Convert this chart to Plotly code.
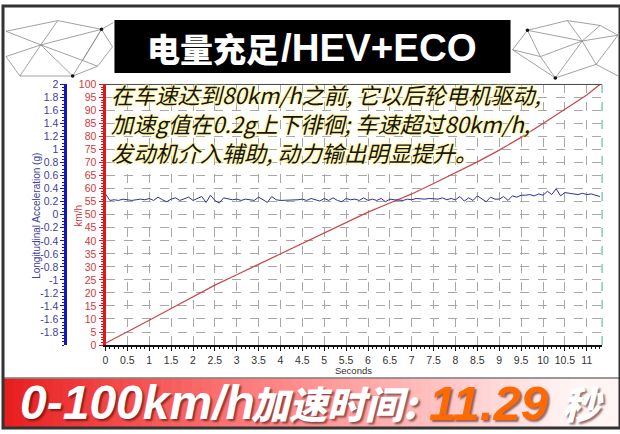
import plotly.graph_objects as go

# ---------------- data ----------------
speed_time_s = [0, 0.5, 1, 1.5, 2, 2.5, 3, 3.5, 4, 4.5, 5, 5.5, 6, 6.5, 7, 7.5,
                8, 8.5, 9, 9.5, 10, 10.5, 11, 11.3]
speed_kmh = [0.7, 5, 9.5, 14, 18.5, 23, 27, 31, 35, 39, 43, 47, 51, 54.5, 58, 62,
             66, 70.3, 74.8, 79.7, 85, 90.5, 96, 100]

acc_time_s = [0.0, 0.1, 0.2, 0.3, 0.4, 0.5, 0.6, 0.7, 0.8, 0.9,
              1.0, 1.1, 1.2, 1.3, 1.4, 1.5, 1.6, 1.7, 1.8, 1.9,
              2.0, 2.1, 2.2, 2.3, 2.4, 2.5, 2.6, 2.7, 2.8, 2.9,
              3.0, 3.1, 3.2, 3.3, 3.4, 3.5, 3.6, 3.7, 3.8, 3.9,
              4.0, 4.1, 4.2, 4.3, 4.4, 4.5, 4.6, 4.7, 4.8, 4.9,
              5.0, 5.1, 5.2, 5.3, 5.4, 5.5, 5.6, 5.7, 5.8, 5.9,
              6.0, 6.1, 6.2, 6.3, 6.4, 6.5, 6.6, 6.7, 6.8, 6.9,
              7.0, 7.1, 7.2, 7.3, 7.4, 7.5, 7.6, 7.7, 7.8, 7.9,
              8.0, 8.1, 8.2, 8.3, 8.4, 8.5, 8.6, 8.7, 8.8, 8.9,
              9.0, 9.1, 9.2, 9.3, 9.4, 9.5, 9.6, 9.7, 9.8, 9.9,
              10.0, 10.1, 10.2, 10.3, 10.4, 10.5, 10.6, 10.7, 10.8, 10.9,
              11.0, 11.1, 11.2, 11.3]
acc_g = [0.32, 0.22, 0.23, 0.22, 0.24, 0.23, 0.22, 0.23, 0.24, 0.23,
         0.25, 0.22, 0.27, 0.23, 0.20, 0.24, 0.26, 0.22, 0.24, 0.27,
         0.22, 0.25, 0.28, 0.19, 0.30, 0.22, 0.18, 0.26, 0.24, 0.23,
         0.24, 0.22, 0.24, 0.23, 0.22, 0.27, 0.23, 0.19, 0.28, 0.23,
         0.22, 0.22, 0.22, 0.22, 0.23, 0.24, 0.22, 0.25, 0.23, 0.21,
         0.25, 0.22, 0.26, 0.22, 0.20, 0.25, 0.23, 0.24, 0.22, 0.26,
         0.22, 0.24, 0.22, 0.25, 0.20, 0.24, 0.23, 0.23, 0.22, 0.24,
         0.23, 0.25, 0.24, 0.24, 0.25, 0.24, 0.24, 0.26, 0.23, 0.25,
         0.23, 0.28, 0.21, 0.26, 0.22, 0.29, 0.24, 0.20, 0.27, 0.24,
         0.24, 0.28, 0.22, 0.29, 0.27, 0.30, 0.30, 0.31, 0.29, 0.32,
         0.30, 0.36, 0.31, 0.40, 0.29, 0.34, 0.33, 0.32, 0.31, 0.33,
         0.31, 0.32, 0.30, 0.28]

acc_tick_vals = [2, 1.8, 1.6, 1.4, 1.2, 1, 0.8, 0.6, 0.4, 0.2, 0,
                 -0.2, -0.4, -0.6, -0.8, -1, -1.2, -1.4, -1.6, -1.8]

title_cn = "电量充足"
title_en = "/HEV+ECO"
note_lines = ["在车速达到80km/h之前, 它以后轮电机驱动,",
              "加速g值在0.2g上下徘徊; 车速超过80km/h,",
              "发动机介入辅助, 动力输出明显提升。"]
result_prefix = "0-100km/h"
result_cn = "加速时间:"
result_value = "11.29"
result_unit = "秒"

# ---------------- layout helpers ----------------
W, H = 620, 434
def px(x):
    return x / W
def py(y):
    return 1 - y / H

X0, X1 = 103, 602
Y_TOP, Y_BOT = 80.7, 348.7

fig = go.Figure()

fig.add_trace(go.Scatter(x=speed_time_s, y=speed_kmh, mode="lines",
                         line=dict(color="#c84848", width=1.2),
                         xaxis="x", yaxis="y", hoverinfo="skip", showlegend=False))
fig.add_trace(go.Scatter(x=acc_time_s, y=acc_g, mode="lines",
                         line=dict(color="#2f2f95", width=1),
                         xaxis="x", yaxis="y2", hoverinfo="skip", showlegend=False))

tickfont = dict(family="Liberation Sans, Arial, sans-serif", size=10.5)

fig.update_layout(
    width=W, height=H,
    margin=dict(l=0, r=0, t=0, b=0),
    paper_bgcolor="white", plot_bgcolor="white",
    showlegend=False,
    xaxis=dict(domain=[px(X0), px(X1)], range=[0, 11.35], tick0=0, dtick=0.5,
               showgrid=True, gridcolor="#a8a8a8", griddash="dash", gridwidth=1,
               showline=True, linecolor="#111", linewidth=2,
               ticks="outside", ticklen=4, tickcolor="#111",
               minor=dict(ticks="outside", dtick=0.1, ticklen=2, tickcolor="#111", showgrid=False),
               tickfont=dict(color="#333", **tickfont), zeroline=False, fixedrange=True),
    yaxis=dict(domain=[py(Y_BOT), py(Y_TOP)], range=[0, 100], tick0=0, dtick=5,
               anchor="x", side="left",
               showgrid=True, gridcolor="#a8a8a8", griddash="dash", gridwidth=1,
               showline=True, linecolor="#e01818", linewidth=3,
               ticks="outside", ticklen=4, tickcolor="#e01818",
               minor=dict(ticks="outside", dtick=1, ticklen=2, tickcolor="#e01818", showgrid=False),
               tickfont=dict(color="#d03a3a", **tickfont), zeroline=False, fixedrange=True),
    yaxis2=dict(overlaying="y", anchor="free", position=px(62.7), side="left",
                range=[-2, 2], tickvals=acc_tick_vals,
                ticktext=[("%g" % v) for v in acc_tick_vals],
                showgrid=False, showline=True, linecolor="#1414c0", linewidth=3,
                ticks="outside", ticklen=4, tickcolor="#1414c0",
                minor=dict(ticks="outside", dtick=0.05, ticklen=2, tickcolor="#1414c0", showgrid=False),
                tickfont=dict(color="#4040a0", **tickfont), zeroline=False, fixedrange=True),
)

shapes = []

# bottom gradient banner (strips)
n = 62
for i in range(n):
    f = (i + 0.5) / n
    t = min(1.0, f / 0.92)
    r = int(min(255, 232 + 60 * f))
    gb = int(30 + 215 * t)
    shapes.append(dict(type="rect", xref="paper", yref="paper",
                       x0=px(i * 10), x1=px(i * 10 + 10.6), y0=py(434), y1=py(383),
                       line=dict(width=0), fillcolor="rgb(%d,%d,%d)" % (r, gb, gb), layer="below"))
shapes.append(dict(type="line", xref="paper", yref="paper", x0=0, x1=1, y0=py(382.5), y1=py(382.5),
                   line=dict(color="#777", width=1.5)))

# title black box
shapes.append(dict(type="rect", xref="paper", yref="paper",
                   x0=px(112), x1=px(510), y0=py(69), y1=py(14.5),
                   line=dict(width=0), fillcolor="#000"))

# decorative polygon lines
left_pts = {"a": (3, 26), "b": (55, 15), "c": (99, 24), "d": (38, 40), "e": (70, 72),
            "f": (17, 72), "g": (3, 52), "h": (80, 56), "i": (110, 42), "j": (111, 17),
            "k": (95, 62)}
left_edges = ["ab", "ad", "bd", "bc", "cj", "ci", "dc", "df", "fg", "dg", "de",
              "ce", "ch", "dh", "hk", "ek", "ik", "fe"]
right_pts = {"a": (527, 25), "b": (567, 15), "c": (582, 36), "d": (555, 74), "e": (596, 60),
             "f": (618, 30), "g": (618, 72), "h": (540, 52), "i": (512, 45), "j": (600, 20)}
right_edges = ["ab", "ac", "bc", "bj", "jf", "cf", "cj", "ah", "ai", "hi", "hd", "cd",
               "ce", "de", "ef", "eg", "ch", "id"]
for pts, edges in ((left_pts, left_edges), (right_pts, right_edges)):
    for e in edges:
        (xa, ya), (xb, yb) = pts[e[0]], pts[e[1]]
        shapes.append(dict(type="line", xref="paper", yref="paper",
                           x0=px(xa), y0=py(ya), x1=px(xb), y1=py(yb),
                           line=dict(color="#8a8a8a", width=0.8)))
for (cx, cy) in [(99, 24), (70, 72), (527, 25), (555, 74)]:
    shapes.append(dict(type="circle", xref="paper", yref="paper",
                       x0=px(cx - 1.8), x1=px(cx + 1.8), y0=py(cy + 1.8), y1=py(cy - 1.8),
                       fillcolor="#111", line=dict(width=0)))

# plot frame top and right
shapes.append(dict(type="line", xref="x domain", yref="y domain", x0=0, x1=1, y0=1, y1=1,
                   line=dict(color="#444", width=1)))
shapes.append(dict(type="line", xref="x domain", yref="y domain", x0=1, x1=1, y0=0, y1=1,
                   line=dict(color="#6fb8b0", width=1.2, dash="dash")))

# outer border
shapes.append(dict(type="rect", xref="paper", yref="paper", x0=0, x1=1, y0=0, y1=1,
                   line=dict(color="#333", width=3)))

fig.update_layout(shapes=shapes)

ann = []
# titles
ann.append(dict(text=title_cn, xref="paper", yref="paper", x=px(143), y=py(43),
                xanchor="left", yanchor="middle", showarrow=False,
                font=dict(family="Noto Sans CJK SC", size=33, color="white", weight=900)))
ann.append(dict(text=title_en, xref="paper", yref="paper", x=px(277), y=py(43),
                xanchor="left", yanchor="middle", showarrow=False,
                font=dict(family="Liberation Sans, Arial", size=38.5, color="white", weight="bold")))

# axis titles
ann.append(dict(text="Longitudinal Acceleration (g)", xref="paper", yref="paper",
                x=px(33), y=py(216), textangle=-90, showarrow=False,
                xanchor="center", yanchor="middle",
                font=dict(family="Liberation Sans, Arial", size=10, color="#4040a0")))
ann.append(dict(text="km/h", xref="paper", yref="paper",
                x=px(75), y=py(216), textangle=-90, showarrow=False,
                xanchor="center", yanchor="middle",
                font=dict(family="Liberation Sans, Arial", size=10, color="#d03a3a")))
ann.append(dict(text="Seconds", xref="paper", yref="paper",
                x=px(352), y=py(374.5), showarrow=False,
                xanchor="center", yanchor="middle",
                font=dict(family="Liberation Sans, Arial", size=9.5, color="#333")))

# note text (one block)
glow = "0 0 2px #fff4a0, 0 0 2px #fff4a0, 0 0 3px #fff4a0, 0 0 4px #fff4a0"
ann.append(dict(text="<br>".join(note_lines), xref="paper", yref="paper", x=px(107), y=py(120),
                xanchor="left", yanchor="middle", align="left", showarrow=False,
                font=dict(family="Noto Sans CJK SC", size=22.2, color="#151515",
                          style="italic", shadow=glow)))

# bottom result text
shadow = "2px 2px 2px rgba(60,0,0,0.55)"
ann.append(dict(text=result_prefix, xref="paper", yref="paper", x=px(15), y=py(408),
                xanchor="left", yanchor="middle", showarrow=False,
                font=dict(family="Liberation Sans, Arial", size=48, color="white",
                          weight="bold", style="italic", shadow=shadow)))
ann.append(dict(text=result_cn, xref="paper", yref="paper", x=px(247), y=py(408),
                xanchor="left", yanchor="middle", showarrow=False,
                font=dict(family="Noto Sans CJK SC", size=38, color="white",
                          weight=900, style="italic", shadow=shadow)))
ann.append(dict(text=result_value, xref="paper", yref="paper", x=px(426), y=py(408),
                xanchor="left", yanchor="middle", showarrow=False,
                font=dict(family="Liberation Sans, Arial", size=49, color="#ff6a00",
                          weight="bold", style="italic", shadow=shadow)))
ann.append(dict(text=result_unit, xref="paper", yref="paper", x=px(560), y=py(408),
                xanchor="left", yanchor="middle", showarrow=False,
                font=dict(family="Noto Sans CJK SC", size=38, color="white",
                          weight=900, style="italic", shadow=shadow)))

fig.update_layout(annotations=ann)

fig.write_html("out.html", config={"displayModeBar": False},
               post_script="document.body.style.margin='0';document.body.style.padding='0';")
